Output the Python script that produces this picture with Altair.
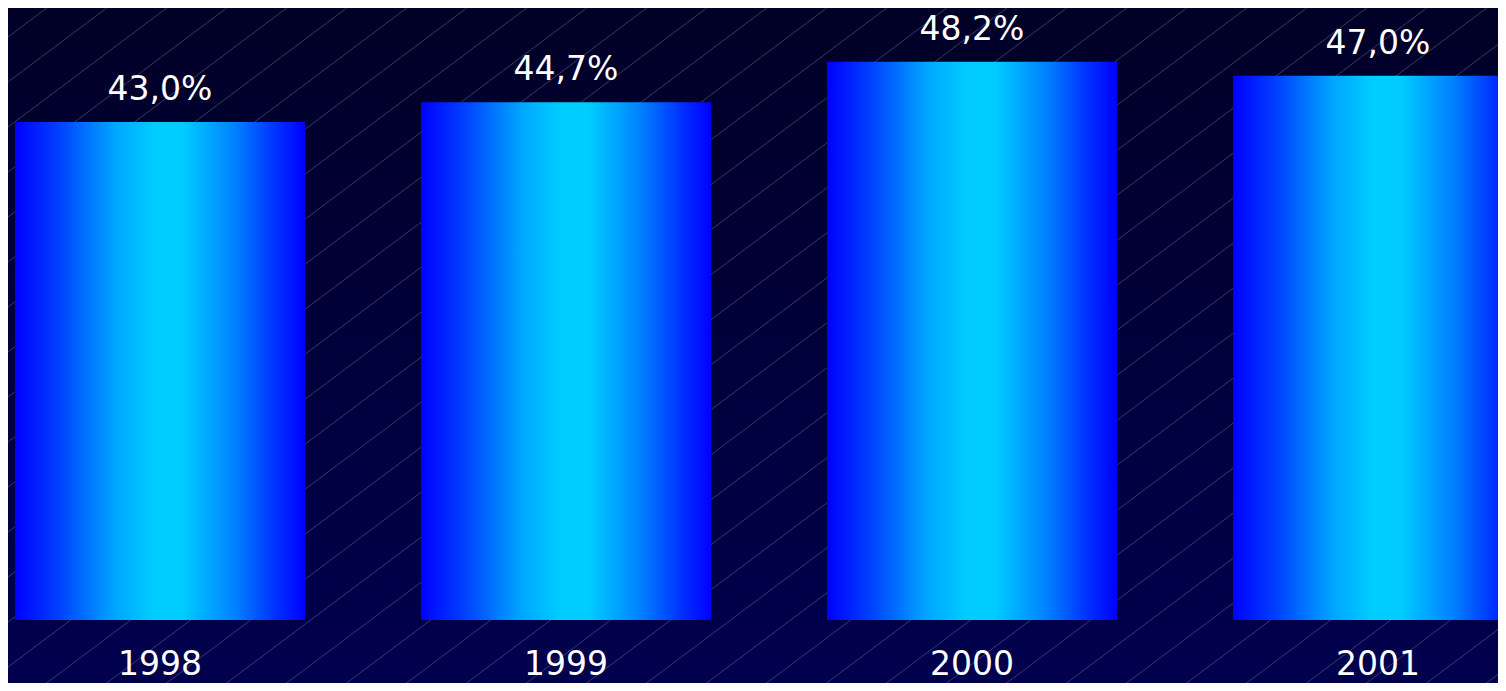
import altair as alt
import pandas as pd

# ---- data ----
years = ["1998", "1999", "2000", "2001"]
values = [43.0, 44.7, 48.2, 47.0]
labels = ["43,0%", "44,7%", "48,2%", "47,0%"]

df = pd.DataFrame({"year": years, "value": values, "label": labels})

# chart size chosen so that chart + 8px page margins == 1506 x 691
W, H = 1490, 675

x_enc = alt.X(
    "year:N",
    sort=years,
    scale=alt.Scale(range=[-51, 1573], paddingInner=0.2857, paddingOuter=0.14285),
    axis=None,
)
y_enc = alt.Y("value:Q", scale=alt.Scale(domain=[0, 50], range=[612, 33]), axis=None)

bar_gradient = alt.Gradient(
    gradient="linear",
    x1=0, x2=1, y1=0, y2=0,
    stops=[
        alt.GradientStop(color="#0000ff", offset=0),
        alt.GradientStop(color="#0040ff", offset=0.15),
        alt.GradientStop(color="#00a8ff", offset=0.35),
        alt.GradientStop(color="#00ccff", offset=0.48),
        alt.GradientStop(color="#00ccff", offset=0.58),
        alt.GradientStop(color="#0080ff", offset=0.76),
        alt.GradientStop(color="#0030ff", offset=0.9),
        alt.GradientStop(color="#0000ff", offset=1),
    ],
)

bg_gradient = alt.Gradient(
    gradient="linear",
    x1=0, x2=0, y1=0, y2=1,
    stops=[
        alt.GradientStop(color="#000026", offset=0),
        alt.GradientStop(color="#00004e", offset=1),
    ],
)

# background panel with vertical gradient
background = (
    alt.Chart(alt.Data(values=[{"bg": 1}]))
    .mark_rect(color=bg_gradient)
    .encode(x=alt.value(-10), x2=alt.value(W + 10), y=alt.value(-10), y2=alt.value(H + 10))
)

# decorative diagonal hatch lines in the background
hatch = (
    alt.Chart(alt.sequence(0, 40, as_="k"))
    .transform_calculate(ya="29 + 45*datum.k", yb="29 + 45*datum.k - 0.75*1490")
    .mark_rule(color="#8080b0", strokeWidth=0.8, opacity=0.55, clip=True)
    .encode(
        x=alt.value(0),
        x2=alt.value(W),
        y=alt.Y("ya:Q", scale=None, axis=None),
        y2="yb:Q",
    )
)

base = alt.Chart(df)

bars = base.mark_bar(color=bar_gradient).encode(x=x_enc, y=y_enc)

FONT = "DejaVu Sans"

value_text = base.mark_text(
    font=FONT, fontSize=33, color="white", baseline="alphabetic", dy=-22
).encode(x=x_enc, y=y_enc, text="label:N")

year_text = base.mark_text(
    font=FONT, fontSize=33, color="white", baseline="alphabetic"
).encode(x=x_enc, y=alt.value(667), text="year:N")

chart = (
    alt.layer(background, hatch, bars, value_text, year_text)
    .resolve_scale(x="independent", y="independent")
    .properties(width=W, height=H, padding=0, autosize=alt.AutoSizeParams(type="none"))
    .configure(background="#000040")
    .configure_view(stroke=None)
)

chart.save("out.html", embed_options={"renderer": "svg", "actions": False})
